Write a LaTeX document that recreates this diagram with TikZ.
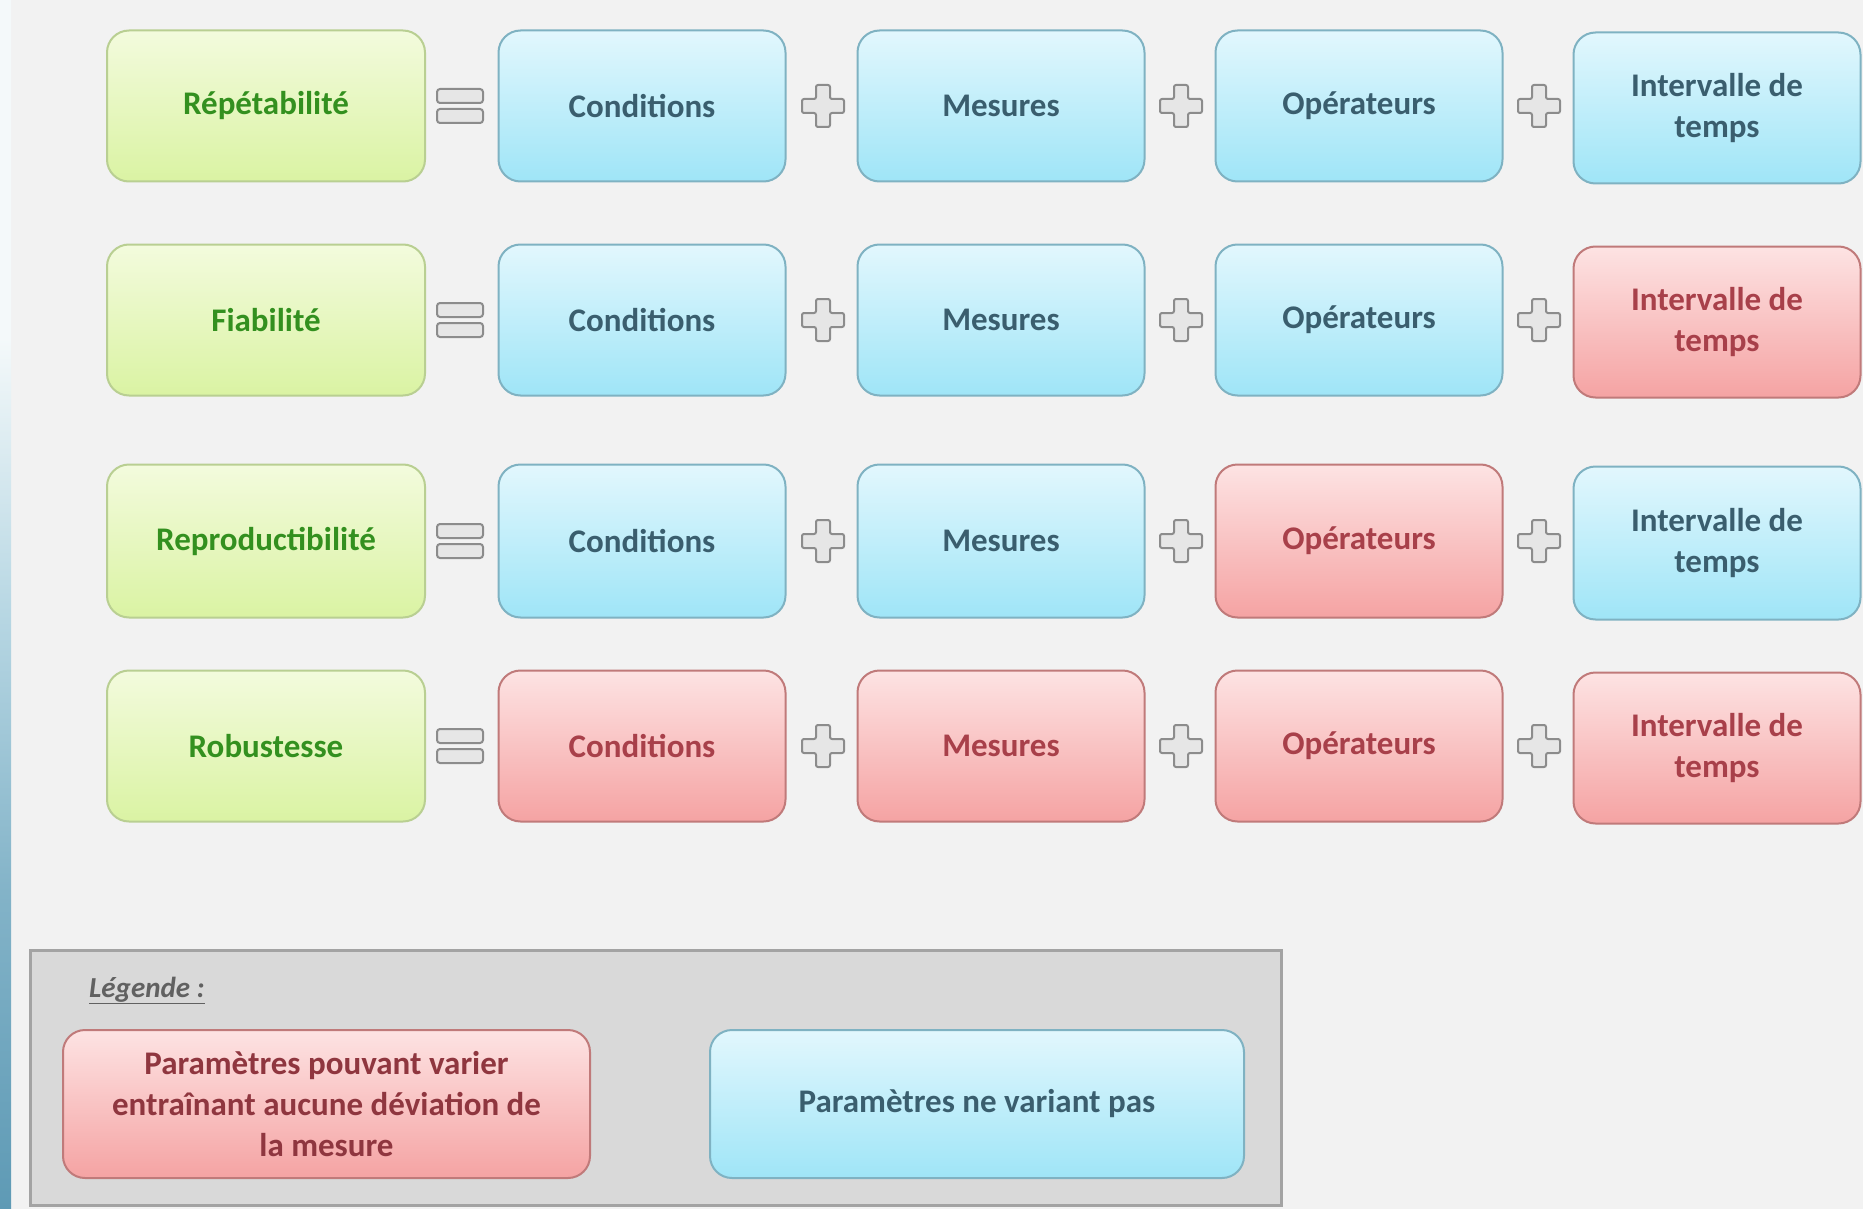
\documentclass[tikz,border=0pt]{standalone}
\usepackage{fontspec}
\setmainfont{Carlito}
\definecolor{bgc}{HTML}{F2F2F2}
\definecolor{gtop}{HTML}{F3FBDD}
\definecolor{gbot}{HTML}{DAF3A3}
\definecolor{gborder}{HTML}{B9CF92}
\definecolor{gtext}{HTML}{33901F}
\definecolor{btop}{HTML}{E2F7FD}
\definecolor{bbot}{HTML}{9FE5F7}
\definecolor{bborder}{HTML}{7FB2C2}
\definecolor{btext}{HTML}{3A5E6E}
\definecolor{rtop}{HTML}{FDE3E3}
\definecolor{rbot}{HTML}{F5A3A3}
\definecolor{rborder}{HTML}{C07A7A}
\definecolor{rtext}{HTML}{A8404A}
\definecolor{legfill}{HTML}{D9D9D9}
\definecolor{legdraw}{HTML}{A3A3A3}
\definecolor{symdraw}{HTML}{8C8C8C}
\definecolor{symfill}{HTML}{E6E6E6}
\definecolor{stripbot}{HTML}{5E9AB5}
\definecolor{stripmid}{HTML}{B9D8E4}
\definecolor{striptop}{HTML}{F4F9FA}
\pgfdeclareverticalshading{stripsh}{100bp}{color(0bp)=(stripbot); color(25bp)=(stripbot); color(38bp)=(stripbot!60!stripmid); color(50bp)=(stripmid); color(61bp)=(striptop); color(100bp)=(striptop)}
\begin{document}
\begin{tikzpicture}[x=1pt,y=-1pt,
  box/.style={rounded corners=22pt, minimum width=287pt, minimum height=151pt,
    line width=2pt, align=center, inner sep=0pt,
    font=\bfseries\fontsize{33}{41}\selectfont},
  gbox/.style={box, draw=gborder, top color=gtop, bottom color=gbot, text=gtext, minimum width=318pt},
  bbox/.style={box, draw=bborder, top color=btop, bottom color=bbot, text=btext},
  rbox/.style={box, draw=rborder, top color=rtop, bottom color=rbot, text=rtext},
  symline/.style={draw=symdraw, fill=symfill, line width=2pt},
  eqsign/.pic={
    \path[symline, rounded corners=3pt] (-23,-17) rectangle (23,-3);
    \path[symline, rounded corners=3pt] (-23,3) rectangle (23,17);
  },
  plussign/.pic={
    \path[symline, rounded corners=2pt] (-7,-21) -- (7,-21) -- (7,-7) -- (21,-7) -- (21,7) -- (7,7)
      -- (7,21) -- (-7,21) -- (-7,7) -- (-21,7) -- (-21,-7) -- (-7,-7) -- cycle;
  }
]
% background
\fill[bgc] (0,0) rectangle (1863,1209);
\useasboundingbox (0,0) rectangle (1863,1209);
\shade[shading=stripsh] (0,0) rectangle (11,1209);

% Row 1
\node[gbox] (g1) at (266,106) {Répétabilité};
\node[bbox] (c1) at (642,106) {Conditions};
\node[bbox] (m1) at (1001,106) {Mesures};
\node[bbox] (o1) at (1359,106) {Opérateurs};
\node[bbox] (t1) at (1717,108) {Intervalle de\\temps};
% Row 2
\node[gbox] (g2) at (266,320) {Fiabilité};
\node[bbox] (c2) at (642,320) {Conditions};
\node[bbox] (m2) at (1001,320) {Mesures};
\node[bbox] (o2) at (1359,320) {Opérateurs};
\node[rbox] (t2) at (1717,322) {Intervalle de\\temps};
% Row 3
\node[gbox, minimum height=153pt] (g3) at (266,541) {Reproductibilité};
\node[bbox, minimum height=153pt] (c3) at (642,541) {Conditions};
\node[bbox, minimum height=153pt] (m3) at (1001,541) {Mesures};
\node[rbox, minimum height=153pt] (o3) at (1359,541) {Opérateurs};
\node[bbox, minimum height=153pt] (t3) at (1717,543) {Intervalle de\\temps};
% Row 4
\node[gbox] (g4) at (266,746) {Robustesse};
\node[rbox] (c4) at (642,746) {Conditions};
\node[rbox] (m4) at (1001,746) {Mesures};
\node[rbox] (o4) at (1359,746) {Opérateurs};
\node[rbox] (t4) at (1717,748) {Intervalle de\\temps};

% symbols
\foreach \r/\yy in {1/106,2/320,3/541,4/746}{
  \pic (eq\r) at (460,\yy) {eqsign};
  \pic (pa\r) at (823,\yy) {plussign};
  \pic (pb\r) at (1181,\yy) {plussign};
  \pic (pc\r) at (1539,\yy) {plussign};
}

% legend
\node[draw=legdraw, fill=legfill, line width=3pt, minimum width=1251pt, minimum height=255pt, inner sep=0pt] (legend) at (655.5,1077.5) {};
\node[anchor=base west, inner sep=0pt, text=black!62, font=\bfseries\itshape\fontsize{29}{34}\selectfont] (legtitle) at (89,997) {\underline{Légende :}};
\node[rbox, minimum width=527pt, minimum height=148pt, text=rtext!85!black] (legred) at (326.5,1104) {Paramètres pouvant varier\\entraînant aucune déviation de\\la mesure};
\node[bbox, minimum width=534pt, minimum height=148pt] (legblue) at (977,1104) {Paramètres ne variant pas};
\end{tikzpicture}
\end{document}
